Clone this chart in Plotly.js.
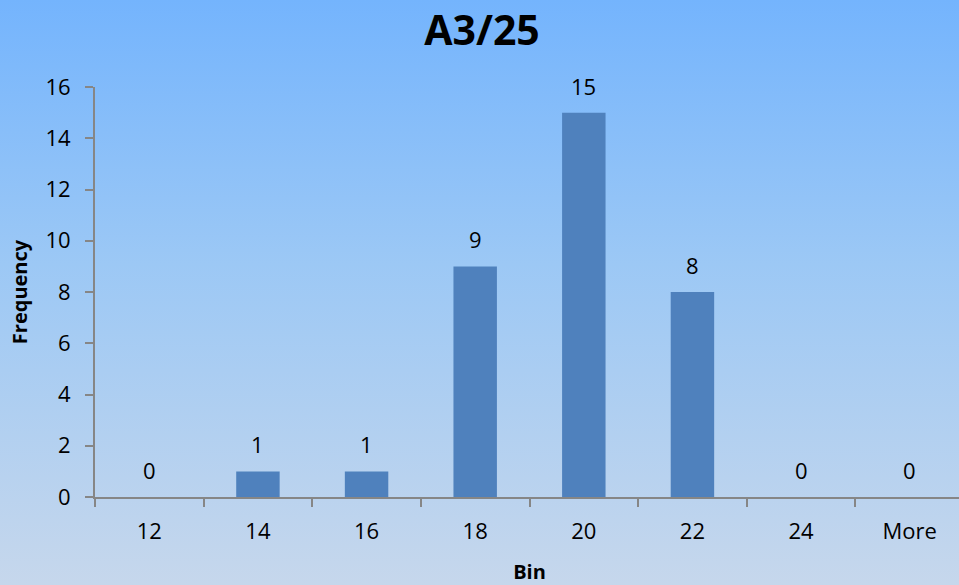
<!DOCTYPE html>
<html>
<head>
<meta charset="utf-8">
<script src="https://cdn.plot.ly/plotly-3.0.1.min.js"></script>
<style>
html,body{margin:0;padding:0;overflow:hidden;width:959px;height:585px;}
body{background:linear-gradient(to bottom,#74b4fd 0%,#9cc8f5 45%,#c6d7ec 100%);}
#chart{width:964px;height:585px;}
</style>
</head>
<body>
<div id="chart"></div>
<script>
const bins = ["12","14","16","18","20","22","24","More"];
const frequency = [0,1,1,9,15,8,0,0];
const yTicks = [0,2,4,6,8,10,12,14,16];

const font = "Open Sans, Liberation Sans, sans-serif";
const labels = bins.map((b, i) => ({
  x: i, y: frequency[i], xref: "x", yref: "y",
  text: String(frequency[i]), showarrow: false,
  yanchor: "middle", yshift: 27,
  font: {family: font, size: 22, color: "#000"}
}));

Plotly.newPlot("chart", [{
  type: "bar",
  x: bins,
  y: frequency,
  marker: {color: "#4f81bd"},
  hoverinfo: "skip"
}], {
  width: 964, height: 585,
  margin: {l: 95, r: 0, t: 87, b: 88},
  paper_bgcolor: "rgba(0,0,0,0)",
  plot_bgcolor: "rgba(0,0,0,0)",
  bargap: 0.6,
  showlegend: false,
  annotations: labels,
  title: {text: "<b>A3/25</b>", x: 0.5, xanchor: "center", y: 0.947, yanchor: "middle", font: {family: font, size: 41, color: "#000"}},
  xaxis: {
    type: "category",
    range: [-0.5, bins.length - 0.5],
    tickangle: 0,
    showline: true, linecolor: "#868686", linewidth: 2,
    ticks: "outside", tickson: "boundaries", ticklen: 8, tickcolor: "#868686", tickwidth: 2,
    ticklabelstandoff: 14,
    tickfont: {family: font, size: 22, color: "#000"},
    showgrid: false, zeroline: false,
    title: {text: "<b>Bin</b>", font: {family: font, size: 20, color: "#000"}, standoff: 23}
  },
  yaxis: {
    range: [0, 16], tickvals: yTicks,
    showline: true, linecolor: "#868686", linewidth: 2,
    ticks: "outside", ticklen: 8, tickcolor: "#868686", tickwidth: 2,
    ticklabelstandoff: 10,
    tickfont: {family: font, size: 22, color: "#000"},
    showgrid: false, zeroline: false,
    title: {text: "<b>Frequency</b>", font: {family: font, size: 20, color: "#000"}, standoff: 12}
  }
}, {displayModeBar: false, staticPlot: true});
</script>
</body>
</html>
